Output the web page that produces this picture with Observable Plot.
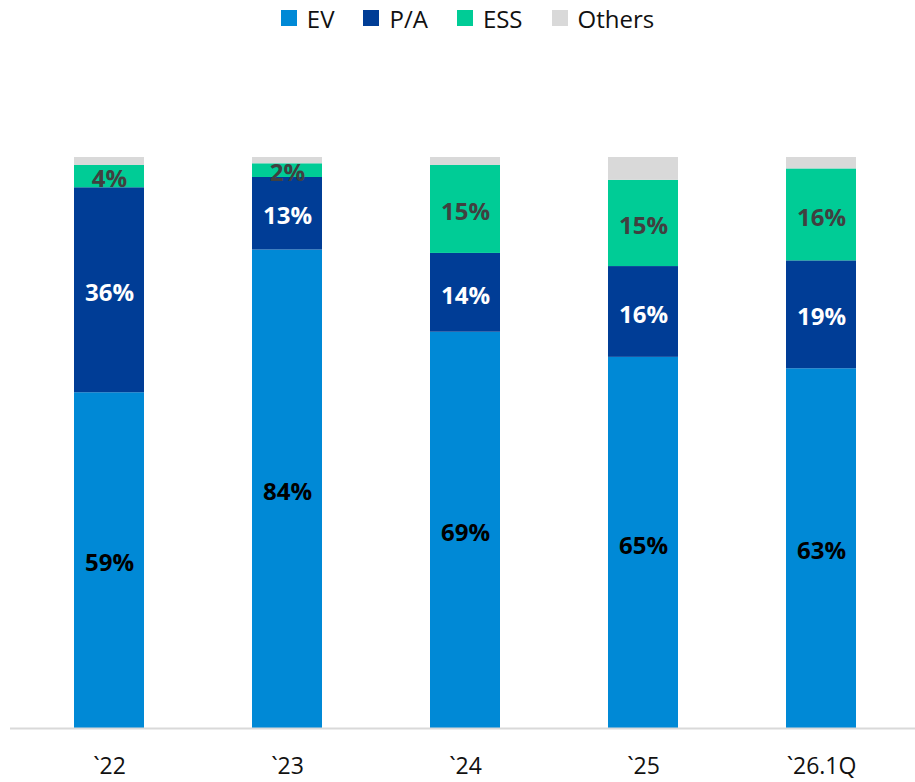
<!DOCTYPE html>
<html>
<head>
<meta charset="utf-8">
<script src="https://cdn.jsdelivr.net/npm/d3@7"></script>
<script src="https://cdn.jsdelivr.net/npm/@observablehq/plot@0.6"></script>
<style>
  html, body { margin: 0; padding: 0; background: #fff; }
  body { width: 915px; font-family: "Open Sans", "Noto Sans", sans-serif; }
  #legend { height: 40px; display: flex; justify-content: center; align-items: center; gap: 29px; padding-left: 20px; box-sizing: border-box; font-size: 24px; color: #111; padding-bottom: 4px; }
  .item { display: flex; align-items: center; gap: 10px; }
  .sw { width: 16px; height: 16px; display: inline-block; }
</style>
</head>
<body>
<div id="legend"></div>
<div id="chart"></div>
<script>
const categories = ["`22", "`23", "`24", "`25", "`26.1Q"];
const seriesNames = ["EV", "P/A", "ESS", "Others"];
const seriesColors = ["#0089d6", "#003d96", "#00cc96", "#d9d9d9"];
const labelColors = ["#000000", "#ffffff", "#404040", null];
const evValues = [58.8, 83.8, 69.4, 65.0, 63.0];
const paValues = [35.9, 12.7, 13.8, 15.9, 18.9];
const essValues = [3.9, 2.4, 15.4, 15.1, 16.1];
const othersValues = [1.4, 1.1, 1.4, 4.0, 2.0];

const seriesValues = [evValues, paValues, essValues, othersValues];
const table = [];
seriesNames.forEach((s, si) => {
  categories.forEach((c, ci) => {
    table.push({category: c, series: s, value: seriesValues[si][ci], label: Math.round(seriesValues[si][ci]) + "%", labelColor: labelColors[si]});
  });
});

// legend
const legend = document.getElementById("legend");
seriesNames.forEach((s, i) => {
  const it = document.createElement("div");
  it.className = "item";
  const sw = document.createElement("span");
  sw.className = "sw";
  sw.style.background = seriesColors[i];
  const t = document.createElement("span");
  t.textContent = s;
  it.appendChild(sw); it.appendChild(t);
  legend.appendChild(it);
});

const chart = Plot.plot({
  width: 915,
  height: 742,
  marginTop: 117,
  marginBottom: 54,
  marginLeft: 10,
  marginRight: 0,
  style: {fontFamily: "'Open Sans', 'Noto Sans', sans-serif", background: "#fff"},
  x: {domain: categories, range: [19, 910], paddingInner: 0.607, paddingOuter: 0.3035, label: null},
  y: {domain: [0, 100], axis: null},
  color: {domain: seriesNames, range: seriesColors},
  marks: [
    Plot.barY(table, Plot.stackY({x: "category", y: "value", z: "series", fill: "series", order: seriesNames})),
    Plot.text(table.filter(d => d.labelColor), Plot.stackY({
      x: "category", y: "value", z: "series", order: seriesNames,
      text: "label", fill: "labelColor", fontSize: 24, fontWeight: "bold", dy: 3
    })),
    Plot.ruleY([0], {stroke: "#d9d9d9", strokeWidth: 2}),
    Plot.axisX({tickSize: 0, tickPadding: 29, fontSize: 23, color: "#111", label: null})
  ]
});
document.getElementById("chart").appendChild(chart);
</script>
</body>
</html>
